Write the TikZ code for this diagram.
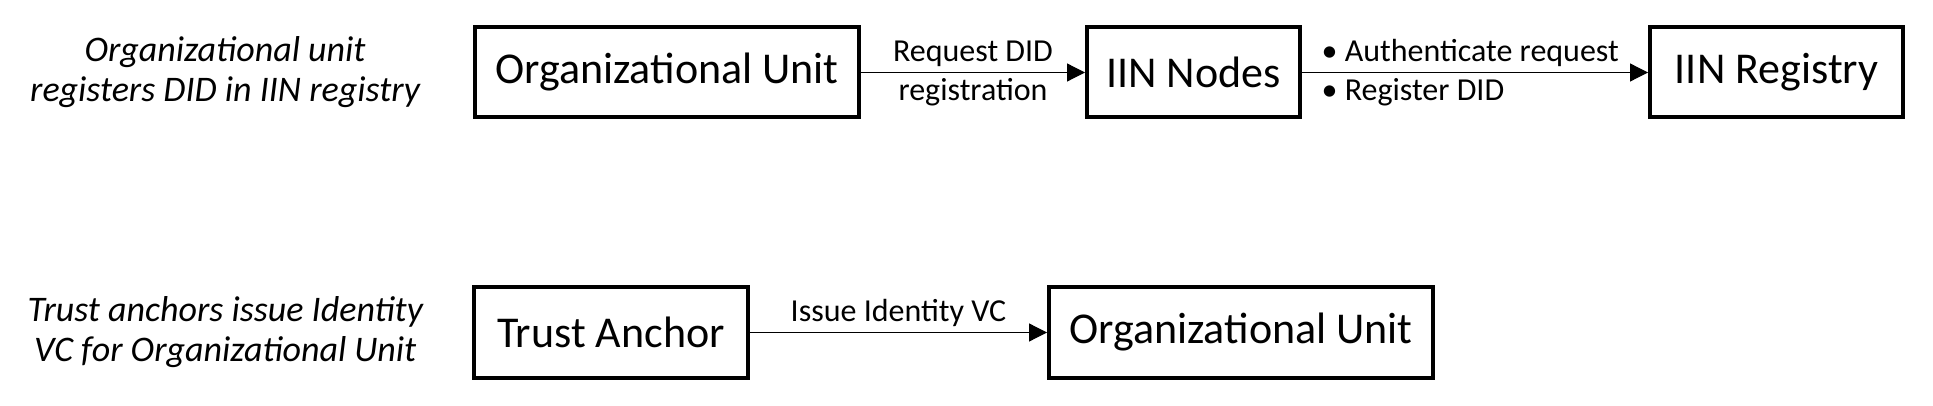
\documentclass[tikz,border=0pt]{standalone}
\usepackage{fontspec}
\setmainfont{Carlito}
\usetikzlibrary{arrows.meta, positioning}

\begin{document}
\begin{tikzpicture}[x=0.5pt, y=-0.5pt, node distance=112pt]
	% Styles
	\tikzstyle{block} = [draw, line width=2pt, rectangle, minimum height=45pt, inner sep=0pt, align=center, font=\fontsize{22}{26}\selectfont]
	\tikzstyle{caption} = [align=center, font=\itshape\fontsize{18}{20}\selectfont]
	\tikzstyle{lbl} = [font=\fontsize{16}{19}\selectfont, inner sep=2.5pt]
	\tikzstyle{arrow} = [line width=0.6pt, -{Triangle[length=9pt, width=9pt]}]

	\useasboundingbox (0,0) rectangle (1933,406);

	% Nodes
	\node (ou) [block, minimum width=192pt] at (667,72.5) {Organizational Unit};
	\node (iin) [block, minimum width=106.5pt, right=112pt of ou] {IIN Nodes};
	\node (reg) [block, minimum width=126.5pt, right=173pt of iin] {IIN Registry};
	\node (trust) [block, minimum width=137pt, below=83pt of ou, xshift=-28pt] {Trust Anchor};
	\node (ou2) [block, minimum width=192pt, right=148.5pt of trust] {Organizational Unit};
	\node (cap1) [caption, left=23pt of ou] {Organizational unit\\registers DID in IIN registry};
	\node (cap2) [caption, left=21pt of trust] {Trust anchors issue Identity\\VC for Organizational Unit};

	% Connections
	\draw [arrow] (ou) -- node [lbl, above] {Request DID} node [lbl, below] {registration} (iin);
	\draw [arrow] (iin) -- node [lbl, pos=0, above right, xshift=7pt] {\textbullet\ Authenticate request} node [lbl, pos=0, below right, xshift=7pt] {\textbullet\ Register DID} (reg);
	\draw [arrow] (trust) -- node [lbl, above] {Issue Identity VC} (ou2);

\end{tikzpicture}
\end{document}
